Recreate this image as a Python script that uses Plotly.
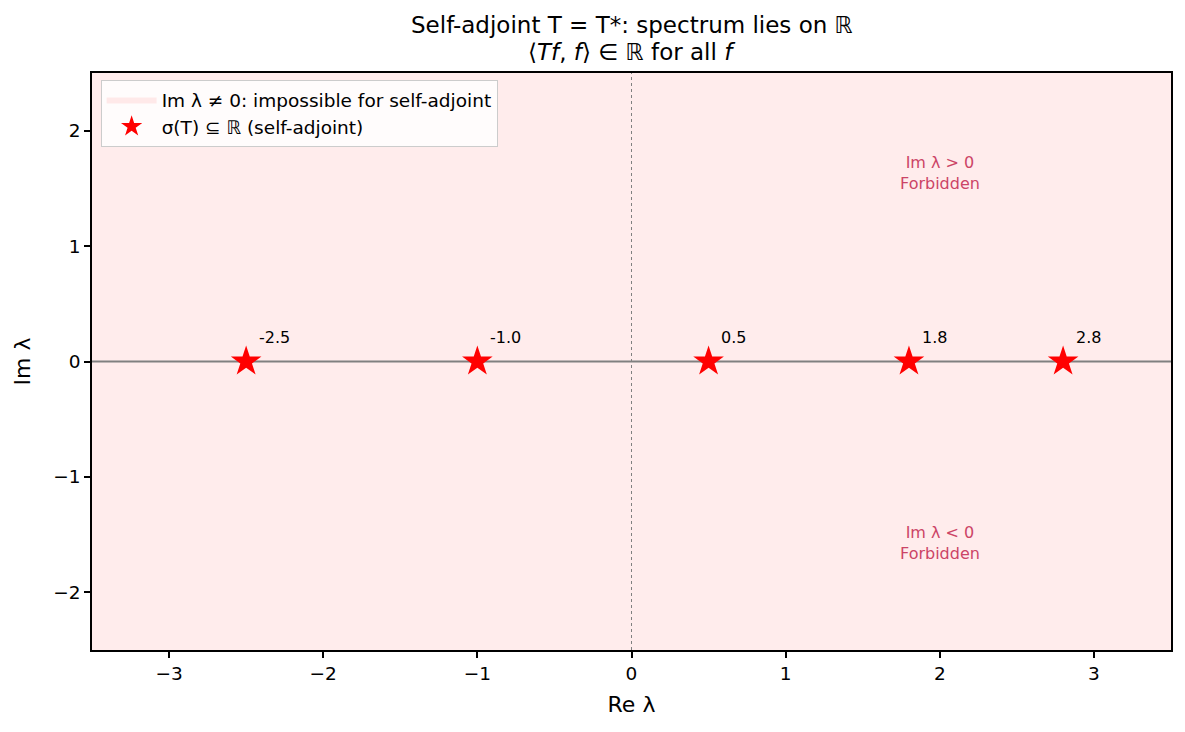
import plotly.graph_objects as go

eigenvalues = [-2.5, -1.0, 0.5, 1.8, 2.8]
eig_labels = ["-2.5", "-1.0", "0.5", "1.8", "2.8"]
x_range = [-3.5, 3.5]
y_range = [-2.5, 2.5]
x_ticks = [-3, -2, -1, 0, 1, 2, 3]
y_ticks = [-2, -1, 0, 1, 2]
region_text = ["Im λ > 0<br>Forbidden", "Im λ < 0<br>Forbidden"]
region_text_pos = [(2.0, 1.63), (2.0, -1.57)]
title_lines = ["Self-adjoint T = T*: spectrum lies on ℝ",
               "⟨<i>Tf</i>, <i>f</i>⟩ ∈ ℝ for all <i>f</i>"]

FONT = "DejaVu Sans"
fill_col = "rgba(255,0,0,0.075)"
BASE = 18.5
LABEL = 22

fig = go.Figure()

# forbidden regions
fig.add_trace(go.Scatter(
    x=[x_range[0], x_range[1], x_range[1], x_range[0], x_range[0]],
    y=[0, 0, y_range[1], y_range[1], 0],
    fill="toself", fillcolor=fill_col, line=dict(width=0, color="rgba(255,0,0,0.12)"),
    mode="lines", name="Im λ ≠ 0: impossible for self-adjoint", hoverinfo="skip"))
fig.add_trace(go.Scatter(
    x=[x_range[0], x_range[1], x_range[1], x_range[0], x_range[0]],
    y=[0, 0, y_range[0], y_range[0], 0],
    fill="toself", fillcolor=fill_col, line=dict(width=0),
    mode="lines", showlegend=False, hoverinfo="skip"))

# real axis and imaginary axis
fig.add_trace(go.Scatter(x=x_range, y=[0, 0], mode="lines",
                         line=dict(color="gray", width=1.8), showlegend=False, hoverinfo="skip"))
fig.add_trace(go.Scatter(x=[0, 0], y=y_range, mode="lines",
                         line=dict(color="gray", width=1, dash="dot"), showlegend=False, hoverinfo="skip"))

# eigenvalues
fig.add_trace(go.Scatter(x=eigenvalues, y=[0] * len(eigenvalues), mode="markers",
                         marker=dict(symbol="star", size=23, color="red", line=dict(width=0)),
                         name="σ(T) ⊆ ℝ (self-adjoint)"))

for x, lab in zip(eigenvalues, eig_labels):
    fig.add_annotation(x=x + 0.07, y=0.21, text=lab, showarrow=False,
                       xanchor="left", yanchor="middle", font=dict(size=16, color="black", family=FONT))

for (x, y), t in zip(region_text_pos, region_text):
    fig.add_annotation(x=x, y=y, text=t, showarrow=False, xanchor="center", yanchor="middle",
                       font=dict(size=16, color="#cc4466", family=FONT))

title_y = [1 + (73 - 25) / 577, 1 + (73 - 52) / 577]
for t, yy in zip(title_lines, title_y):
    fig.add_annotation(xref="paper", yref="paper", x=0.5, y=yy, text=t, showarrow=False,
                       xanchor="center", yanchor="middle", font=dict(size=23, color="black", family=FONT))

fig.update_layout(
    width=1185, height=732,
    margin=dict(l=92, r=14, t=73, b=82),
    plot_bgcolor="white", paper_bgcolor="white",
    font=dict(family=FONT, size=BASE, color="black"),
    legend=dict(x=0.008, y=0.988, xanchor="left", yanchor="top",
                bgcolor="rgba(255,255,255,0.85)", bordercolor="#cccccc", borderwidth=1,
                font=dict(size=BASE, family=FONT), tracegroupgap=2, itemwidth=50),
    showlegend=True,
)
fmt = lambda v: ("−" + str(-v)) if v < 0 else str(v)
fig.update_xaxes(range=x_range, tickvals=x_ticks, ticktext=[fmt(v) for v in x_ticks],
                 showgrid=False, zeroline=False, showline=True, linecolor="black", linewidth=1.5, mirror=True,
                 ticks="outside", ticklen=6, tickwidth=1.5, tickcolor="black", tickfont=dict(size=BASE),
                 title=dict(text="Re λ", font=dict(size=LABEL), standoff=14))
fig.update_yaxes(range=y_range, tickvals=y_ticks, ticktext=[fmt(v) for v in y_ticks],
                 showgrid=False, zeroline=False, showline=True, linecolor="black", linewidth=1.5, mirror=True,
                 ticks="outside", ticklen=6, tickwidth=1.5, tickcolor="black", tickfont=dict(size=BASE),
                 title=dict(text="Im λ", font=dict(size=LABEL), standoff=17))

fig.write_html("out.html")
